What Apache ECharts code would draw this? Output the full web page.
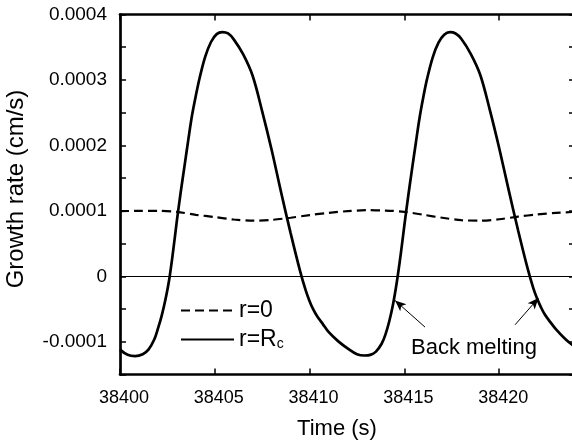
<!DOCTYPE html>
<html>
<head>
<meta charset="utf-8">
<script src="https://cdn.jsdelivr.net/npm/echarts@6/dist/echarts.min.js"></script>
<style>
html,body{margin:0;padding:0;background:#fff;}
#chart{width:572px;height:440px;}
</style>
</head>
<body>
<div id="chart"></div>
<script>
// ---- data ----
const solidTime = [38400,38400.4,38400.8,38401.2,38401.5,38401.8,38402.0,38402.2,38402.4,38402.6,38402.8,38403.0,38403.2,38403.4,38403.6,38403.8,38404.0,38404.2,38404.5,38404.8,38405.1,38405.4,38405.7,38406.0,38406.5,38407.0,38407.5,38408.0,38408.5,38409.0,38409.5,38409.8,38410.0,38410.2,38410.4,38410.7,38411.0,38411.5,38412.0,38412.5,38412.9,38413.2,38413.5,38413.8,38414.0,38414.2,38414.4,38414.6,38414.8,38415.0,38415.2,38415.4,38415.6,38415.8,38416.0,38416.2,38416.5,38416.8,38417.1,38417.4,38417.7,38418.0,38418.5,38419.0,38419.5,38420.0,38420.5,38421.0,38421.5,38421.8,38422.0,38422.2,38422.4,38422.7,38423.0,38423.5,38424.0];
const solidRate = [-0.000112,-0.000120,-0.000122,-0.000119,-0.000112,-0.000097,-0.000080,-0.000060,-0.000035,-0.000004,0.000038,0.000085,0.000128,0.000168,0.000208,0.000246,0.000276,0.000303,0.000336,0.000358,0.000370,0.000373,0.000371,0.000362,0.000339,0.000306,0.000252,0.000193,0.000128,0.000066,0.000008,-0.000022,-0.000038,-0.000051,-0.000061,-0.000073,-0.000085,-0.000099,-0.000110,-0.000119,-0.000121,-0.000120,-0.000115,-0.000103,-0.000089,-0.000069,-0.000043,-0.000009,0.000032,0.000078,0.000122,0.000163,0.000203,0.000242,0.000274,0.000302,0.000335,0.000357,0.000369,0.000373,0.000371,0.000363,0.000340,0.000308,0.000255,0.000196,0.000132,0.000070,0.000012,-0.000018,-0.000034,-0.000047,-0.000058,-0.000070,-0.000081,-0.000096,-0.000108];
const dashedTime = [38400,38401,38402,38403,38404,38405,38406,38407,38408,38409,38410,38411,38412,38413,38414,38415,38416,38417,38418,38419,38420,38421,38422,38423,38424];
const dashedRate = [0.0000995,0.0001,0.0001,0.0000985,0.000094,0.0000905,0.0000868,0.000085,0.0000862,0.0000895,0.0000935,0.000097,0.0000995,0.000101,0.0001005,0.0000985,0.000094,0.0000895,0.0000858,0.000085,0.0000872,0.0000912,0.0000945,0.000097,0.0000985];
const refLevels = [0, 0.0001];
const xTicks = {min: 38400, max: 38424, step: 5};
const yTicks = {min: -0.00015, max: 0.0004, step: 0.00005};
const seriesNames = ['r=0', 'r=Rc'];
const annotationText = 'Back melting';
// arrows: [tailTime, tailRate, headTime, headRate]
const arrows = [[38416.09, -0.0000776, 38414.51, -0.000037], [38420.84, -0.000074, 38422.07, -0.0000333]];

const FONT = '"Liberation Sans", Arial, Helvetica, sans-serif';
const pair = (xs, ys) => xs.map((x, i) => [x, ys[i]]);

const yFmt = v => {
  const k = Math.round(v / yTicks.step);
  if (k % 2 !== 0) return '';
  if (k === 0) return '0';
  return (k * yTicks.step).toFixed(4);
};
const xFmt = v => (Math.abs((v - xTicks.min) % xTicks.step) < 1e-6 ? String(v) : '');

const axisLineStyle = {color: '#000', width: 2.7};
const tickStyle = {color: '#000', width: 1.5};

const chart = echarts.init(document.getElementById('chart'), null, {renderer: 'canvas'});
chart.setOption({
  animation: false,
  backgroundColor: '#fff',
  textStyle: {fontFamily: FONT, color: '#000'},
  grid: {left: 120, top: 14.5, right: -3, bottom: 65.5, containLabel: false, outerBoundsMode: 'none'},
  legend: {
    orient: 'vertical', left: 175, top: 294, itemGap: 6,
    itemWidth: 53, itemHeight: 14,
    data: seriesNames,
    itemStyle: {color: 'rgba(0,0,0,0)', borderWidth: 0, opacity: 0},
    formatter: n => n === 'r=Rc' ? '{a|r=R}{s|c}' : '{a|r=0}',
    textStyle: {
      padding: [0, 0, 0, 0],
      rich: {
        a: {fontSize: 23, fontFamily: FONT, color: '#000', lineHeight: 24},
        s: {fontSize: 14, fontFamily: FONT, color: '#000', verticalAlign: 'bottom', lineHeight: 14}
      }
    }
  },
  xAxis: [{
    type: 'value', min: xTicks.min, max: xTicks.max, interval: xTicks.step,
    axisLine: {show: true, onZero: false, lineStyle: axisLineStyle},
    axisTick: {show: true, inside: true, length: 6, lineStyle: tickStyle},
    axisLabel: {formatter: xFmt, fontSize: 18, color: '#000', margin: 15, padding: [0, 0, 0, 8], showMaxLabel: false, fontFamily: FONT},
    splitLine: {show: false},
    name: 'Time (s)', nameLocation: 'middle', nameGap: 43,
    nameTextStyle: {fontSize: 22, color: '#000', fontFamily: FONT, padding: [0, 21, 0, 0]}
  }, {
    type: 'value', position: 'top', min: xTicks.min, max: xTicks.max, interval: xTicks.step,
    axisLine: {show: true, onZero: false, lineStyle: axisLineStyle},
    axisTick: {show: true, inside: true, length: 6, lineStyle: tickStyle},
    axisLabel: {show: false}, splitLine: {show: false}
  }],
  yAxis: [{
    type: 'value', min: yTicks.min, max: yTicks.max, interval: yTicks.step,
    axisLine: {show: true, onZero: false, lineStyle: axisLineStyle},
    axisTick: {show: true, inside: true, length: 6, lineStyle: tickStyle},
    axisLabel: {formatter: yFmt, fontSize: 19, color: '#000', margin: 13, fontFamily: FONT},
    splitLine: {show: false},
    name: 'Growth rate (cm/s)', nameLocation: 'middle', nameGap: 92,
    nameTextStyle: {fontSize: 24, color: '#000', fontFamily: FONT, padding: [0, 0, 0, 11]}
  }, {
    type: 'value', position: 'right', min: yTicks.min, max: yTicks.max, interval: yTicks.step,
    axisLine: {show: true, onZero: false, lineStyle: axisLineStyle},
    axisTick: {show: true, inside: true, length: 6, lineStyle: tickStyle},
    axisLabel: {show: false}, splitLine: {show: false}
  }],
  series: [{
    name: seriesNames[0], type: 'line', smooth: 0.3, symbol: 'none',
    data: pair(dashedTime, dashedRate),
    lineStyle: {color: '#000', width: 2.2, type: [9, 5]},
    itemStyle: {color: '#000'},
    markLine: {
      silent: true, symbol: ['none', 'none'], label: {show: false},
      lineStyle: {color: '#000', width: 1, type: 'solid'},
      data: refLevels.map(v => ({yAxis: v}))
    },
    z: 3
  }, {
    name: seriesNames[1], type: 'line', smooth: 0.35, symbol: 'none',
    data: pair(solidTime, solidRate),
    lineStyle: {color: '#000', width: 2.7, type: 'solid'},
    itemStyle: {color: '#000'},
    markLine: {
      silent: true, symbol: ['none', 'arrow'], symbolSize: [7, 11], label: {show: false},
      lineStyle: {color: '#000', width: 1, type: 'solid'},
      data: arrows.map(a => [{coord: [a[0], a[1]]}, {coord: [a[2], a[3]]}])
    },
    z: 4
  }],
  graphic: [{
    type: 'text', left: 411, top: 337,
    style: {text: annotationText, fontSize: 22, fontFamily: FONT, fill: '#000'}
  }]
});
</script>
</body>
</html>
